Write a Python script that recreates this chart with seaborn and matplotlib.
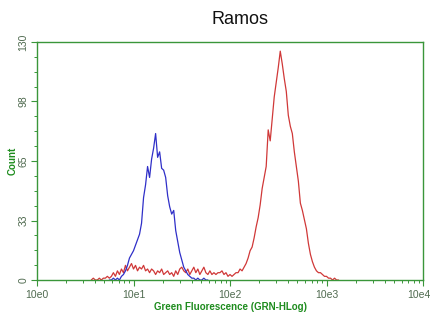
import matplotlib
matplotlib.use('Agg')
import matplotlib.pyplot as plt
from matplotlib.ticker import FixedLocator, LogLocator, NullFormatter
from matplotlib.transforms import ScaledTranslation
import numpy as np
import pandas as pd
import seaborn as sns

# channels are 48 per decade on the log axis (channel 0 = 10^0)
CH_PER_DECADE = 48

blue_start = 36
blue_counts = [0, 0, 1, 0, 1, 0, 2, 3, 5, 8,
               12, 14, 16, 19, 22, 25, 31, 45, 52, 62,
               56, 66, 72, 80, 67, 70, 61, 60, 56, 46,
               40, 36, 38, 27, 21, 15, 11, 7, 5, 3,
               2, 1, 1, 0, 1, 0, 0, 1, 0, 0]

red_start = 27
red_counts = [0, 1, 0, 0, 1, 0, 1, 1, 2,
              1, 2, 4, 2, 5, 3, 6, 4, 8, 5,
              7, 9, 6, 8, 5, 7, 6, 8, 5, 6,
              4, 6, 5, 3, 5, 4, 6, 3, 4, 5,
              3, 4, 2, 5, 3, 6, 7, 5, 4, 6,
              3, 5, 7, 4, 6, 3, 5, 7, 4, 3,
              5, 3, 4, 3, 4, 4, 5, 3, 4, 2,
              3, 2, 3, 4, 4, 6, 5, 7, 9, 12,
              16, 18, 23, 29, 34, 41, 50, 56, 62, 82,
              76, 88, 100, 108, 116, 125, 118, 110, 103, 90,
              84, 80, 70, 62, 54, 42, 38, 33, 28, 20,
              14, 10, 7, 5, 4, 4, 3, 2, 2, 1,
              1, 0, 1, 0, 0]

def to_frame(start, counts, name):
    ch = np.arange(start, start + len(counts))
    return pd.DataFrame({'fl': 10 ** (ch / CH_PER_DECADE), 'count': counts, 'sample': name})

df = pd.concat([to_frame(red_start, red_counts, 'red'), to_frame(blue_start, blue_counts, 'blue')])

sns.set_style(style='white')
plt.rcParams['font.family'] = ['Liberation Sans', 'DejaVu Sans']

axis_green = '#3a963a'
label_green = '#1e8c1e'
tick_col = '#4f6a4f'

fig = plt.figure(figsize=(4.32, 3.14), dpi=100)
ax = fig.add_axes([37 / 432, 1 - 280 / 314, 386 / 432, 238 / 314])

sns.lineplot(data=df, x='fl', y='count', hue='sample', sort=False,
             palette={'blue': '#2f2fc8', 'red': '#d03838'}, linewidth=0.9,
             legend=False, ax=ax, estimator=None)

ax.set_xscale('log')
ax.set_xlim(1, 1e4)
ax.set_ylim(0, 130)

ax.set_xticks([1, 10, 100, 1000, 10000])
ax.set_xticklabels(['10e0', '10e1', '10e2', '10e3', '10e4'])
ax.xaxis.set_minor_locator(LogLocator(base=10, subs=np.arange(2, 10)))
ax.xaxis.set_minor_formatter(NullFormatter())

ax.set_yticks([0, 32.5, 65, 97.5, 130])
ax.set_yticklabels(['0', '33', '65', '98', '130'], rotation=90, va='center')
ax.yaxis.set_minor_locator(FixedLocator(np.arange(0, 131, 8.125)))

for s in ax.spines.values():
    s.set_color(axis_green)
    s.set_linewidth(1.0)

ax.tick_params(which='both', direction='out', colors=axis_green, labelcolor=tick_col,
               labelsize=7.5, bottom=True, left=True)
ax.tick_params(which='major', length=4, width=0.8)
ax.tick_params(which='minor', length=2.5, width=0.7)
ax.tick_params(axis='y', pad=2)

# last x label sits at the right edge, nudge it in a bit so it is not clipped
last = ax.get_xticklabels()[-1]
last.set_transform(last.get_transform() + ScaledTranslation(-3 / 72, 0, fig.dpi_scale_trans))

ax.set_xlabel('Green Fluorescence (GRN-HLog)', fontsize=7, fontweight='bold',
              color=label_green, family=['Liberation Sans Narrow', 'Liberation Sans'], labelpad=1)
ax.set_ylabel('Count', fontsize=7, fontweight='bold', color=label_green,
              family=['Liberation Sans Narrow', 'Liberation Sans'], labelpad=1)

fig.text(240 / 432, 1 - 19 / 314, 'Ramos', fontsize=13, color='#111111', ha='center', va='center')

fig.savefig('out.png', dpi=100, facecolor='white')
